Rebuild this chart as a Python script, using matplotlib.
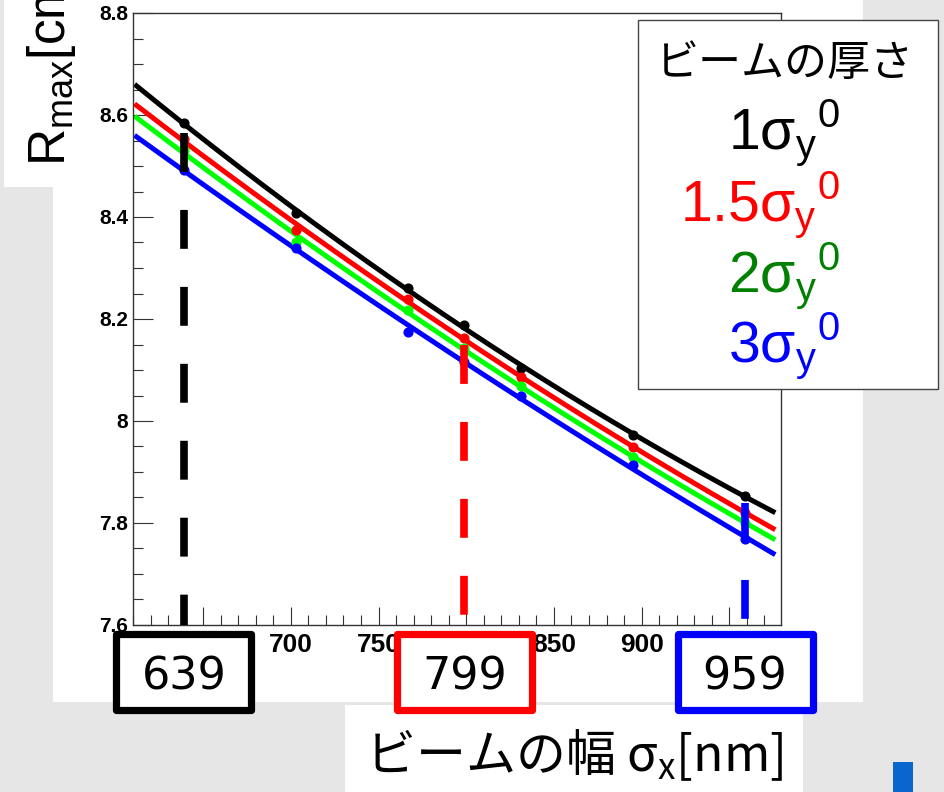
import numpy as np
import matplotlib.pyplot as plt
from matplotlib.patches import Rectangle
from matplotlib.ticker import MultipleLocator, FormatStrFormatter, FuncFormatter
from matplotlib import transforms

# ビームの幅 sigma_x [nm]
sigma_x = [639, 703, 767, 799, 831, 895, 959]

# R_max [cm]  (ビームの厚さごと)
r_1 = [8.584, 8.408, 8.261, 8.188, 8.104, 7.973, 7.853]
r_15 = [8.553, 8.375, 8.239, 8.163, 8.086, 7.949, 7.820]
r_2 = [8.531, 8.351, 8.218, 8.143, 8.068, 7.929, 7.800]
r_3 = [8.492, 8.340, 8.174, 8.116, 8.050, 7.913, 7.768]
r_err = [0.006, 0.006, 0.006, 0.006, 0.006, 0.006, 0.006]

thick_labels = ['1', '1.5', '2', '3']
line_colors = ['black', 'red', '#00ff00', 'blue']
text_colors = ['black', 'red', 'green', 'blue']

# 強調する幅と破線の上端
mark_x = [639, 799, 959]
mark_top = [8.565, 8.149, 7.839]
mark_colors = ['black', 'red', 'blue']

fit_lo, fit_hi = 612, 975
box_w = 77

W, H = 944, 792


def fx(px):
    return px / W


def fy(py):
    return 1 - py / H


def xtick_fmt(v, pos):
    # 枠の下に隠れる目盛りは出さない
    for m in mark_x:
        if abs(v - m) < box_w / 2 + 2:
            return ''
    return '%g' % v


plt.rcParams['lines.scale_dashes'] = False

fig = plt.figure(figsize=(W / 100, H / 100), dpi=100, facecolor='#e6e6e6')

# 白い下地
for x0, y0, x1, y1 in [(53, 0, 863, 702), (4, 0, 80, 187), (345, 705, 803, 792)]:
    fig.add_artist(Rectangle((fx(x0), fy(y1)), fx(x1) - fx(x0), fy(y0) - fy(y1),
                             transform=fig.transFigure, facecolor='white',
                             edgecolor='none', zorder=-1))
fig.add_artist(Rectangle((fx(893), fy(792)), fx(913) - fx(893), fy(762) - fy(792),
                         transform=fig.transFigure, facecolor='#0a66cc',
                         edgecolor='none', zorder=-1))

ax = fig.add_axes([fx(133), fy(625), fx(781) - fx(133), fy(13) - fy(625)])
ax.set_facecolor('white')

series = [r_1, r_15, r_2, r_3]
xs = np.linspace(fit_lo, fit_hi, 200)
for r, c in zip(series, line_colors):
    coef = np.polyfit(sigma_x, r, 2)
    ax.plot(xs, np.polyval(coef, xs), color=c, lw=3.6, zorder=2)
for r, c in zip(series, line_colors):
    ax.errorbar(sigma_x, r, yerr=r_err, fmt='o', color=c, ms=6.3,
                elinewidth=2.5, capsize=0, zorder=3)

for v, top, c in zip(mark_x, mark_top, mark_colors):
    ax.plot([v, v], [top, 7.6], color=c, lw=5.5, ls=(0, (28, 27.4)),
            dash_capstyle='butt', zorder=4, clip_on=False)

ax.set_xlim(610, 979.5)
ax.set_ylim(7.6, 8.8)
ax.xaxis.set_major_locator(MultipleLocator(50))
ax.xaxis.set_minor_locator(MultipleLocator(10))
ax.yaxis.set_major_locator(MultipleLocator(0.2))
ax.yaxis.set_minor_locator(MultipleLocator(0.05))
ax.xaxis.set_major_formatter(FuncFormatter(xtick_fmt))
ax.yaxis.set_major_formatter(FormatStrFormatter('%g'))
ax.tick_params(which='both', direction='in', top=False, right=False,
               width=0.8, color='#333333')
ax.tick_params(axis='y', which='major', length=14.4, pad=3.6, labelsize=15)
ax.tick_params(axis='y', which='minor', length=7.2)
ax.tick_params(axis='x', which='major', length=13, pad=5.5, labelsize=19)
ax.tick_params(axis='x', which='minor', length=7.2)
for t in ax.get_yticklabels():
    t.set_fontfamily(['Liberation Sans', 'DejaVu Sans'])
    t.set_fontweight('bold')
for t in ax.get_xticklabels():
    t.set_fontfamily(['Liberation Sans Narrow', 'Liberation Sans', 'DejaVu Sans'])
    t.set_fontweight('bold')
for s in ax.spines.values():
    s.set_color('#333333')
    s.set_linewidth(1.0)

# 幅の値の枠
trans = transforms.blended_transform_factory(ax.transData, fig.transFigure)
for v, c in zip(mark_x, mark_colors):
    ax.add_patch(Rectangle((v - box_w / 2, fy(710)), box_w, fy(634) - fy(710),
                           transform=trans, facecolor='white', edgecolor=c,
                           lw=5.2, joinstyle='round', clip_on=False, zorder=10))
    ax.text(v, fy(689), str(v), transform=trans, ha='center', va='baseline',
            fontsize=32, family='DejaVu Sans', zorder=11, clip_on=False)

# 軸タイトル
fig.text(fx(52), fy(166), 'R$_\\mathregular{max}$[cm]', rotation=90,
         ha='center', va='bottom', fontsize=37, family='Liberation Sans')
fig.text(fx(365), fy(771), 'ビームの幅 σ$_\\mathregular{x}$[nm]',
         ha='left', va='baseline', fontsize=36,
         family=['Noto Sans CJK JP', 'DejaVu Sans'])

# 凡例
fig.add_artist(Rectangle((fx(638), fy(389)), fx(938) - fx(638), fy(20) - fy(389),
                         transform=fig.transFigure, facecolor='white',
                         edgecolor='#444444', lw=1.0, zorder=5))
fig.text(fx(785), fy(76), 'ビームの厚さ', ha='center', va='baseline',
         fontsize=31, family=['Noto Sans CJK JP', 'DejaVu Sans'], zorder=6)
for lab, c, base in zip(thick_labels, text_colors, [150, 222, 293, 363]):
    fig.text(fx(840), fy(base), lab + 'σ$_\\mathregular{y}$$^\\mathregular{0}$',
             ha='right', va='baseline', fontsize=41, color=c,
             family='Liberation Sans', zorder=6)

fig.savefig('out.png', dpi=100, facecolor=fig.get_facecolor())
